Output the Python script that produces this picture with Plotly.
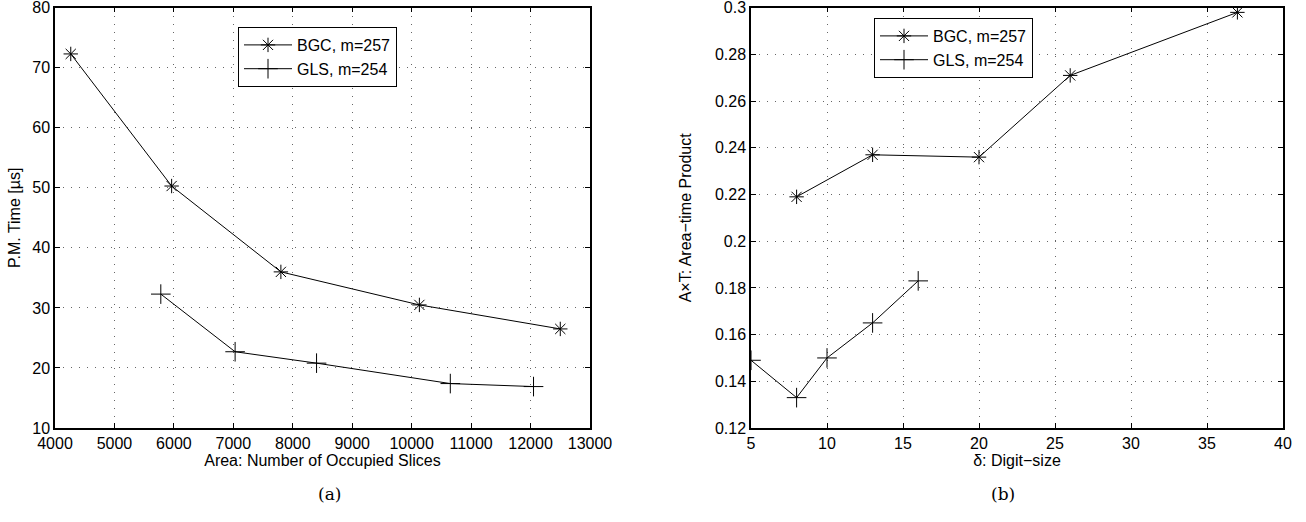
import plotly.graph_objects as go

# Panel (a)
bgc_area = [4265, 5962, 7800, 10130, 12500]
bgc_time = [72.3, 50.3, 36.0, 30.5, 26.5]
gls_area = [5780, 7030, 8400, 10650, 12050]
gls_time = [32.3, 22.7, 20.8, 17.4, 16.9]

# Panel (b)
bgc_digit = [8, 13, 20, 26, 37]
bgc_at = [0.219, 0.237, 0.236, 0.271, 0.298]
gls_digit = [5, 8, 10, 13, 16]
gls_at = [0.149, 0.133, 0.150, 0.165, 0.183]

# Tick labels
xa_ticks = [4000, 5000, 6000, 7000, 8000, 9000, 10000, 11000, 12000, 13000]
ya_ticks = [10, 20, 30, 40, 50, 60, 70, 80]
xb_ticks = [5, 10, 15, 20, 25, 30, 35, 40]
yb_ticks = [0.12, 0.14, 0.16, 0.18, 0.2, 0.22, 0.24, 0.26, 0.28, 0.3]
yb_text = ["0.12", "0.14", "0.16", "0.18", "0.2", "0.22", "0.24", "0.26", "0.28", "0.3"]

W, H = 1306, 522
font = "Liberation Sans, Arial, Helvetica, sans-serif"
serif = "DejaVu Serif, Liberation Serif, serif"

fig = go.Figure()
line = dict(color="black", width=1)
star = dict(symbol="asterisk-open", size=12, color="black", line=dict(width=1, color="black"))
plus = dict(symbol="cross-thin-open", size=14, color="black", line=dict(width=1, color="black"))

fig.add_trace(go.Scatter(x=bgc_area, y=bgc_time, mode="lines+markers", name="BGC, m=257",
                         line=line, marker=star, xaxis="x", yaxis="y", legend="legend"))
fig.add_trace(go.Scatter(x=gls_area, y=gls_time, mode="lines+markers", name="GLS, m=254",
                         line=line, marker=plus, xaxis="x", yaxis="y", legend="legend"))
fig.add_trace(go.Scatter(x=bgc_digit, y=bgc_at, mode="lines+markers", name="BGC, m=257",
                         line=line, marker=star, xaxis="x2", yaxis="y2", legend="legend2"))
fig.add_trace(go.Scatter(x=gls_digit, y=gls_at, mode="lines+markers", name="GLS, m=254",
                         line=line, marker=plus, xaxis="x2", yaxis="y2", legend="legend2"))

ydom = [1 - 428 / H, 1 - 7.7 / H]

def ax(**kw):
    d = dict(showline=True, linecolor="black", linewidth=1.5, mirror="ticks", ticks="inside",
             ticklen=5, tickcolor="black", showgrid=True, gridcolor="rgba(0,0,0,0.6)", griddash="1px,7px",
             gridwidth=1, zeroline=False, tickfont=dict(family=font, size=16, color="black"),
             title_font=dict(family=font, size=16, color="black"), tickmode="array",
             automargin=False, ticklabeloverflow="allow")
    d.update(kw)
    return d

fig.update_layout(
    width=W, height=H, margin=dict(l=0, r=0, t=0, b=0, autoexpand=False),
    paper_bgcolor="white", plot_bgcolor="white",
    xaxis=ax(domain=[55 / W, 590 / W], range=[4000 - 1e-3, 13000 + 1e-3], tickvals=xa_ticks,
             ticktext=[str(v) for v in xa_ticks], anchor="y",
             title=dict(text="Area: Number of Occupied Slices", standoff=2)),
    yaxis=ax(domain=ydom, range=[10 - 1e-6, 80 + 1e-6], tickvals=ya_ticks, ticktext=[str(v) for v in ya_ticks],
             anchor="x", title=dict(text="P.M. Time [µs]", standoff=8)),
    xaxis2=ax(domain=[751 / W, 1283 / W], range=[5 - 1e-6, 40 + 1e-6], tickvals=xb_ticks,
              ticktext=[str(v) for v in xb_ticks], anchor="y2",
              title=dict(text="δ: Digit−size", standoff=2)),
    yaxis2=ax(domain=ydom, range=[0.12 - 1e-9, 0.30 + 1e-9], tickvals=yb_ticks, ticktext=yb_text, anchor="x2",
              title=dict(text="A×T: Area−time Product", standoff=19)),
    legend=dict(x=238 / W, y=1 - 27 / H, xanchor="left", yanchor="top", bgcolor="white",
                bordercolor="black", borderwidth=1, font=dict(family=font, size=16, color="black"),
                tracegroupgap=0, itemwidth=48),
    legend2=dict(x=874 / W, y=1 - 18 / H, xanchor="left", yanchor="top", bgcolor="white",
                 bordercolor="black", borderwidth=1, font=dict(family=font, size=16, color="black"),
                 tracegroupgap=0, itemwidth=48),
    annotations=[
        dict(text="(a)", x=316 / W, y=1 - 506 / H, xref="paper", yref="paper", showarrow=False,
             font=dict(family=serif, size=17, color="black")),
        dict(text="(b)", x=1017 / W, y=1 - 506 / H, xref="paper", yref="paper", showarrow=False,
             font=dict(family=serif, size=17, color="black")),
    ],
)

fig.write_html("out.html", config={"displayModeBar": False},
               post_script="document.body.style.margin='0';document.body.style.overflow='hidden';")
